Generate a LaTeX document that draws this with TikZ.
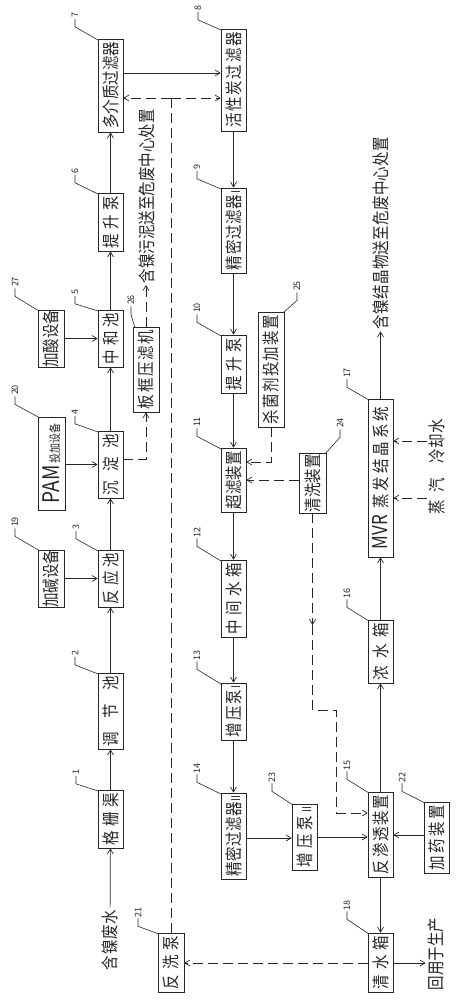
\documentclass[tikz,border=0pt]{standalone}
\usepackage{fontspec}
\setmainfont{Noto Sans CJK SC}
\usetikzlibrary{arrows.meta}
\ExplSyntaxOn
\NewDocumentCommand\sprd{m}{
  \bool_set_true:N \l_tmpa_bool
  \tl_map_inline:nn {#1} {
    \bool_if:NTF \l_tmpa_bool {\bool_set_false:N \l_tmpa_bool} {\hfill}
    {##1}
  }
}
\ExplSyntaxOff
% box: name, xleft, xright, ytop, ybottom, text
\newcommand\vbx[6]{\node[boxst, minimum width={(#3)-(#2)}, minimum height={(#5)-(#4)}] (#1) at ({((#2)+(#3))/2},{((#4)+(#5))/2}) {\rotatebox{90}{\scalebox{1}[1.2]{\makebox[\dimexpr #5pt-#4pt-6pt\relax]{\sprd{#6}}}}};}
\newcommand\vbxr[6]{\node[boxst, minimum width={(#3)-(#2)}, minimum height={(#5)-(#4)}] (#1) at ({((#2)+(#3))/2},{((#4)+(#5))/2}) {\rotatebox{90}{\scalebox{1}[1.2]{#6}}};}
% number label: num, x, y, corner x, corner y
\newcommand\lbl[5]{\node[numst] (n#1) at (#2,#3) {\rotatebox{90}{#1}}; \draw[leadst] (n#1.south) -- ++(0,8) -- (#4,#5);}
% text: name, x, y, length, text
\newcommand\vtxt[5]{\node[txtst] (#1) at (#2,#3) {\rotatebox{90}{\scalebox{1}[1.2]{\makebox[#4pt]{\sprd{#5}}}}};}
\begin{document}
\begin{tikzpicture}[x=1pt,y=-1pt,line width=0.7pt,color=black!85,
  font=\fontsize{14.5}{14.5}\selectfont,
  boxst/.style={draw, inner sep=0pt, fill=white},
  arr/.style={-{Straight Barb[length=5pt,width=6pt]}},
  dsh/.style={dash pattern=on 10pt off 5pt},
  numst/.style={inner sep=1pt, font=\fontsize{9}{9}\selectfont},
  leadst/.style={line width=0.6pt},
  txtst/.style={inner sep=2pt}]
\useasboundingbox (0,0) rectangle (457,1000);
% column 1
\vbx{b1}{98}{123}{790}{848}{格栅渠}
\vbx{b2}{98}{123}{673}{749}{调节池}
\vbx{b3}{98}{123}{550}{607}{反应池}
\vbx{b4}{98}{123}{431}{498}{沉淀池}
\vbx{b5}{98}{123}{310}{367}{中和池}
\vbx{b6}{98}{123}{193}{251}{提升泵}
\vbx{b7}{98}{123}{39}{132}{多介质过滤器}
\vbx{b19}{38}{64}{550}{607}{加碱设备}
\vbxr{b20}{38}{65}{417}{510}{\makebox[87pt]{{\fontsize{19}{19}\selectfont PAM}\hspace{2pt}{\fontsize{10}{10}\selectfont 投加设备}}}
\vbx{b27}{38}{64}{310}{367}{加酸设备}
\vbx{b26}{133}{159}{327}{412}{板框压滤机}
\vbx{b21}{158}{184}{933}{992}{反洗泵}
% column 2
\vbx{b8}{221}{246}{29}{131}{活性炭过滤器}
\vbx{b9}{221}{246}{188}{273}{精密过滤器{\fontsize{10}{10}\selectfont I}}
\vbx{b10}{221}{246}{335}{393}{提升泵}
\vbx{b11}{221}{246}{448}{512}{超滤装置}
\vbx{b12}{221}{246}{560}{637}{中间水箱}
\vbx{b13}{221}{246}{683}{740}{增压泵{\fontsize{10}{10}\selectfont I}}
\vbx{b14}{221}{246}{793}{879}{精密过滤器{\fontsize{10}{10}\selectfont II}}
\vbx{b23}{292}{317}{804}{870}{增压泵{\fontsize{10}{10}\selectfont II}}
\vbx{b25}{258}{284}{312}{427}{杀菌剂投加装置}
\vbx{b24}{299}{326}{453}{513}{清洗装置}
% column 3
\vbx{b15}{368}{393}{792}{877}{反渗透装置}
\vbx{b22}{424}{449}{802}{873}{加药装置}
\vbx{b18}{368}{393}{933}{992}{清水箱}
\vbx{b16}{368}{393}{620}{683}{浓水箱}
\vbxr{b17}{368}{393}{399}{557}{\makebox[152pt]{{\fontsize{17}{17}\selectfont MVR}\hspace{6pt}\makebox[102pt]{\sprd{蒸发结晶系统}}}}
% free texts
\vtxt{tin}{110}{940}{60}{含镍废水}
\vtxt{tsl}{147}{196}{173}{含镍污泥送至危废中心处置}
\vtxt{tcr}{381}{233}{192}{含镍结晶物送至危废中心处置}
\vtxt{tre}{436}{954}{72}{回用于生产}
\vtxt{tco}{437}{441}{44}{冷却水}
\vtxt{tst}{437}{496}{37}{蒸汽}
% number labels
\lbl{7}{75}{15}{98}{40}
\lbl{6}{75}{171}{98}{194}
\lbl{5}{75}{292}{98}{311}
\lbl{4}{75}{412}{98}{432}
\lbl{3}{76}{527}{98}{551}
\lbl{2}{75}{653}{98}{674}
\lbl{1}{76}{772}{98}{791}
\lbl{27}{15}{282}{39}{311}
\lbl{20}{15}{390}{40}{418}
\lbl{19}{15}{522}{40}{551}
\lbl{26}{131}{300}{135}{328}
\lbl{21}{138}{912}{159}{934}
\lbl{8}{198}{8}{221}{30}
\lbl{9}{197}{167}{221}{189}
\lbl{10}{197}{308}{221}{336}
\lbl{11}{197}{422}{221}{449}
\lbl{12}{197}{532}{221}{561}
\lbl{13}{197}{655}{221}{684}
\lbl{14}{197}{768}{221}{794}
\lbl{23}{272}{777}{293}{805}
\lbl{15}{347}{765}{369}{793}
\lbl{22}{402}{777}{425}{803}
\lbl{18}{347}{905}{369}{934}
\lbl{16}{347}{593}{369}{621}
\lbl{17}{347}{373}{369}{400}
\lbl{25}{297}{286}{283}{313}
\lbl{24}{340}{423}{325}{454}
% solid connectors
\draw[arr] (tin) -- (b1);
\draw[arr] (b1) -- (b2);
\draw[arr] (b2) -- (b3);
\draw[arr] (b3) -- (b4);
\draw[arr] (b4) -- (b5);
\draw[arr] (b5) -- (b6);
\draw[arr] (b6) -- (b7);
\draw[arr] (b19) -- (b3);
\draw[arr] (b20.east |- b4.center) -- (b4.west);
\draw[arr] (b27) -- (b5);
\draw[arr] (b7.east |- 0,73) -- (b8.west |- 0,73);
\draw[arr] (b8) -- (b9);
\draw[arr] (b9) -- (b10);
\draw[arr] (b10) -- (b11);
\draw[arr] (b11) -- (b12);
\draw[arr] (b12) -- (b13);
\draw[arr] (b13) -- (b14);
\draw[arr] (b14.east |- 0,838) -- (b23.west |- 0,838);
\draw[arr] (b23.east |- 0,837) -- (b15.west |- 0,837);
\draw[arr] (b22.west |- 0,835) -- (b15.east |- 0,835);
\draw[arr] (b15) -- (b16);
\draw[arr] (b16) -- (b17);
\draw[arr] (b17.north) -- (b17.north |- tcr.south);
\draw[arr] (b15) -- (b18);
\draw[arr] (b18.east |- 0,963) -- (tre.west |- 0,963);
% dashed connectors
\draw[arr,dsh] (b4.east |- 0,459) -| (b26.south);
\draw[arr,dsh] (b26.north) -- (b26.north |- tsl.south);
\coordinate (jb) at (171,98);
\draw[dsh] (b21.north) -- (b21.north |- jb);
\draw[arr,dsh] (jb) -- (b7.east |- jb);
\draw[arr,dsh] (jb) -- (b8.west |- jb);
\draw[arr,dsh] (b18.west |- 0,963) -- (b21.east |- 0,963);
\draw[arr,dsh] (b25.south) |- (b11.east |- 0,462);
\draw[arr,dsh] (b24.west |- 0,480) -- (b11.east |- 0,480);
\coordinate (m1) at (312.5,625);
\coordinate (m2) at (312.5,710);
\coordinate (m3) at (336,710);
\coordinate (m4) at (336,813);
\draw[arr,dsh] (b24.south) -- (m1);
\draw[dsh] (m1) -- (m2) -- (m3) -- (m4);
\draw[arr,dsh] (m4) -- (b15.west |- m4);
\draw[arr,dsh] (tco.west) -- (b17.east |- tco.west);
\draw[arr,dsh] (tst.west |- 0,498) -- (b17.east |- 0,498);
\end{tikzpicture}
\end{document}
